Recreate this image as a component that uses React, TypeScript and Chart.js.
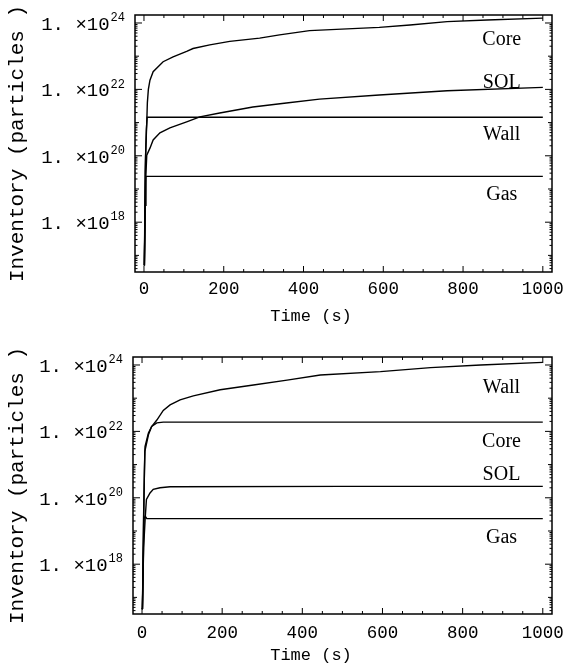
import React, { useEffect, useRef } from 'react';
import { Chart, registerables } from 'chart.js';

Chart.register(...registerables);

// ---------- axis ticks ----------
const xTickValues = [0, 200, 400, 600, 800, 1000];
const yTickExponents = [18, 20, 22, 24];
const xTitle = 'Time (s)';
const yTitle = 'Inventory (particles )';

// ---------- top panel series (time s, particles) ----------
const topCoreT = [1, 4, 7, 8.5, 11, 15, 23, 48, 73, 107, 123, 165, 215, 290, 340, 415, 590, 667, 760, 860, 1000];
const topCoreV = [5e16, 1e20, 1e21, 4e21, 1e22, 1.9e22, 3.4e22, 6.8e22, 9.6e22, 1.4e23, 1.7e23, 2.2e23, 2.8e23, 3.5e23, 4.4e23, 5.9e23, 7.4e23, 8.7e23, 1.1e24, 1.23e24, 1.4e24];

const topSolT = [1, 4, 7, 15, 23, 40, 65, 107, 140, 190, 273, 357, 440, 590, 760, 1000];
const topSolV = [5e16, 1.6e19, 1.05e20, 1.7e20, 3.0e20, 4.9e20, 6.9e20, 1.05e21, 1.48e21, 1.95e21, 2.95e21, 3.9e21, 5.1e21, 6.8e21, 9.1e21, 1.15e22];

const topWallT = [1, 3, 6, 8, 500, 1000];
const topWallV = [5e16, 3.2e19, 6.3e20, 1.45e21, 1.45e21, 1.45e21];

const topGasT = [1, 3, 5, 500, 1000];
const topGasV = [5e16, 3.2e18, 2.4e19, 2.4e19, 2.4e19];

const topLabelText = ['Core', 'SOL', 'Wall', 'Gas'];
const topLabelT = [897, 897, 897, 897];
const topLabelV = [3.1e23, 1.55e22, 4.3e20, 6.6e18];

// ---------- bottom panel series ----------
const botWallT = [1, 4, 6, 7.5, 16, 24, 37, 53, 70, 95, 128, 195, 278, 362, 445, 595, 720, 845, 1000];
const botWallV = [4.4e16, 2e19, 6.3e20, 3.5e21, 8.9e21, 1.4e22, 2.2e22, 4.3e22, 6.3e22, 8.9e22, 1.17e23, 1.8e23, 2.5e23, 3.5e23, 5e23, 6.3e23, 8.3e23, 1e24, 1.2e24];

const botCoreT = [1, 4, 7, 16, 24, 37, 53, 500, 1000];
const botCoreV = [4.4e16, 3.2e19, 2.5e21, 7.9e21, 1.4e22, 1.8e22, 1.9e22, 1.9e22, 1.9e22];

const botSolT = [1, 4, 8, 11, 20, 28, 45, 70, 500, 1000];
const botSolV = [4.4e16, 3.2e18, 2.5e19, 8.9e19, 1.4e20, 1.8e20, 2.0e20, 2.15e20, 2.2e20, 2.2e20];

const botGasT = [1, 3, 5, 8, 12, 500, 1000];
const botGasV = [4.4e16, 1e18, 2.35e19, 2.8e19, 2.35e19, 2.35e19, 2.35e19];

const botLabelText = ['Wall', 'Core', 'SOL', 'Gas'];
const botLabelT = [897, 897, 897, 897];
const botLabelV = [2.0e23, 4.9e21, 5.0e20, 6.3e18];

const X_MIN = -22.5;
const X_MAX = 1023;
const Y_MIN = 3.16e16;
const Y_MAX = 1.74e24;

const MONO = '"Liberation Mono", "Courier New", monospace';
const SERIF = '"Liberation Serif", "Times New Roman", serif';

type Series = { t: number[]; v: number[] };

type PanelProps = {
  offsetTop: number;
  canvasH: number;
  areaTop: number;
  areaBottom: number;
  areaLeft: number;
  areaRight: number;
  series: Series[];
  labelText: string[];
  labelT: number[];
  labelV: number[];
  tickPad: number;
  xTitleY: number;
};

const W = 564;

function Panel(props: PanelProps) {
  const ref = useRef<HTMLCanvasElement | null>(null);

  useEffect(() => {
    const canvas = ref.current;
    if (!canvas) return;

    const decoPlugin = {
      id: 'deco',
      afterDraw(chart: any) {
        const { ctx, chartArea: a, scales } = chart;
        const xs = scales.x;
        const ys = scales.y;
        ctx.save();
        ctx.strokeStyle = '#000';
        ctx.fillStyle = '#000';
        // frame
        ctx.lineWidth = 1.5;
        ctx.strokeRect(a.left, a.top, a.right - a.left, a.bottom - a.top);
        ctx.lineWidth = 1;
        const seg = (x1: number, y1: number, x2: number, y2: number) => {
          ctx.beginPath();
          ctx.moveTo(x1, y1);
          ctx.lineTo(x2, y2);
          ctx.stroke();
        };
        // x ticks (inward, bottom + top)
        for (let v = 0; v <= 1000; v += 50) {
          const px = xs.getPixelForValue(v);
          const len = v % 200 === 0 ? 6 : 3;
          seg(px, a.bottom, px, a.bottom - len);
          seg(px, a.top, px, a.top + len);
        }
        // y ticks (inward, left + right)
        for (let e = 16; e <= 24; e++) {
          for (let m = 1; m <= 9; m++) {
            const val = m * Math.pow(10, e);
            if (val < Y_MIN || val > Y_MAX) continue;
            const py = ys.getPixelForValue(val);
            const len = m === 1 ? (e % 2 === 0 ? 7 : 4) : 2.5;
            seg(a.left, py, a.left + len, py);
            seg(a.right, py, a.right - len, py);
          }
        }
        // y tick labels with superscripts
        for (const e of yTickExponents) {
          const py = ys.getPixelForValue(Math.pow(10, e));
          const sup = String(e);
          ctx.font = '12px ' + MONO;
          const supW = ctx.measureText(sup).width;
          const xEnd = a.left - 10;
          ctx.textBaseline = 'middle';
          ctx.textAlign = 'left';
          ctx.fillText(sup, xEnd - supW, py - 5);
          ctx.font = '19px ' + MONO;
          ctx.textAlign = 'right';
          ctx.fillText('1. \u00d710', xEnd - supW - 1, py + 2);
        }
        // x title
        ctx.font = '17px ' + MONO;
        ctx.textAlign = 'center';
        ctx.textBaseline = 'middle';
        ctx.fillText(xTitle, 311, props.xTitleY);
        // series labels
        ctx.font = '20px ' + SERIF;
        for (let i = 0; i < props.labelText.length; i++) {
          const lx = xs.getPixelForValue(props.labelT[i]);
          const ly = ys.getPixelForValue(props.labelV[i]);
          ctx.fillText(props.labelText[i], lx, ly);
        }
        ctx.restore();
      },
    };

    const chart = new Chart(canvas, {
      type: 'line',
      data: {
        datasets: props.series.map((s) => ({
          data: s.t.map((t, i) => ({ x: t, y: s.v[i] })),
          borderColor: '#000',
          backgroundColor: '#000',
          borderWidth: 1.4,
          pointRadius: 0,
          tension: 0,
          fill: false,
        })),
      },
      options: {
        responsive: false,
        maintainAspectRatio: false,
        animation: false,
        events: [],
        layout: {
          padding: { top: props.areaTop, right: W - props.areaRight, left: 0, bottom: 0 },
        },
        plugins: {
          legend: { display: false },
          tooltip: { enabled: false },
        },
        scales: {
          x: {
            type: 'linear',
            min: X_MIN,
            max: X_MAX,
            bounds: 'data',
            afterBuildTicks: (s: any) => {
              s.ticks = xTickValues.map((value) => ({ value }));
            },
            afterFit: (s: any) => {
              s.height = props.canvasH - props.areaBottom;
              s.paddingLeft = 0;
              s.paddingRight = 0;
            },
            ticks: {
              font: { family: MONO, size: 17.5 },
              color: '#000',
              padding: props.tickPad,
              maxRotation: 0,
              autoSkip: false,
              callback: (v: any) => String(v),
            },
            grid: { display: false, drawTicks: false },
            border: { display: false },
          },
          y: {
            type: 'logarithmic',
            min: Y_MIN,
            max: Y_MAX,
            bounds: 'data',
            afterFit: (s: any) => {
              s.width = props.areaLeft;
              s.paddingTop = 0;
              s.paddingBottom = 0;
            },
            ticks: { display: false },
            grid: { display: false, drawTicks: false },
            border: { display: false },
            title: {
              display: true,
              text: yTitle,
              font: { family: MONO, size: 21 },
              color: '#000',
              padding: { top: 5, bottom: 0 },
            },
          },
        },
      } as any,
      plugins: [decoPlugin],
    });

    return () => chart.destroy();
  }, []);

  return (
    <div style={{ position: 'absolute', left: 0, top: props.offsetTop, width: W, height: props.canvasH }}>
      <canvas ref={ref} width={W} height={props.canvasH} style={{ display: 'block' }} />
    </div>
  );
}

export default function App() {
  return (
    <div style={{ position: 'absolute', left: 0, top: 0, width: W, height: 667, background: '#fff' }}>
      <Panel
        offsetTop={0}
        canvasH={332}
        areaTop={15}
        areaBottom={272}
        areaLeft={135}
        areaRight={552}
        series={[
          { t: topCoreT, v: topCoreV },
          { t: topSolT, v: topSolV },
          { t: topWallT, v: topWallV },
          { t: topGasT, v: topGasV },
        ]}
        labelText={topLabelText}
        labelT={topLabelT}
        labelV={topLabelV}
        tickPad={7}
        xTitleY={316}
      />
      <Panel
        offsetTop={320}
        canvasH={347}
        areaTop={37}
        areaBottom={294}
        areaLeft={133}
        areaRight={552}
        series={[
          { t: botWallT, v: botWallV },
          { t: botCoreT, v: botCoreV },
          { t: botSolT, v: botSolV },
          { t: botGasT, v: botGasV },
        ]}
        labelText={botLabelText}
        labelT={botLabelT}
        labelV={botLabelV}
        tickPad={9}
        xTitleY={335}
      />
    </div>
  );
}
